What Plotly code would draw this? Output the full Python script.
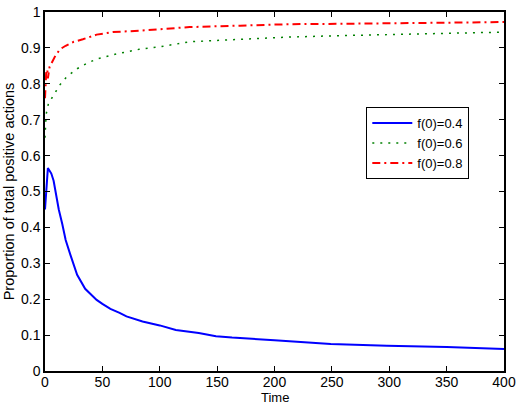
import plotly.graph_objects as go

# curva f(0)=0.4
t_04 = [0, 1, 2.5, 4, 5.5, 7.5, 9.5, 12, 15, 18, 22, 28, 35, 40, 45, 50, 57,
        65, 71, 85, 100, 114, 134, 149, 163, 200, 249, 298, 350, 400]
p_04 = [0.45, 0.50, 0.565, 0.558, 0.55, 0.53, 0.49, 0.45, 0.41, 0.365, 0.325,
        0.268, 0.229, 0.213, 0.198, 0.187, 0.173, 0.162, 0.152, 0.138, 0.127,
        0.114, 0.106, 0.097, 0.093, 0.086, 0.075, 0.070, 0.067, 0.061]

# curva f(0)=0.6
t_06 = [0, 0.5, 1, 3, 5, 8, 13, 19, 28, 36, 45, 62, 82, 100, 126, 170, 212,
        255, 298, 350, 400]
p_06 = [0.65, 0.69, 0.715, 0.745, 0.755, 0.77, 0.797, 0.82, 0.842, 0.856,
        0.869, 0.883, 0.896, 0.903, 0.917, 0.924, 0.930, 0.934, 0.937, 0.941,
        0.944]

# curva f(0)=0.8
t_08 = [0, 0.5, 1, 2, 2.5, 4, 6, 9, 13, 18, 25, 33, 45, 59, 82, 105, 126, 170,
        212, 255, 298, 350, 400]
p_08 = [0.76, 0.80, 0.83, 0.84, 0.815, 0.847, 0.86, 0.878, 0.896, 0.906, 0.917,
        0.924, 0.937, 0.944, 0.948, 0.954, 0.958, 0.962, 0.966, 0.967, 0.968,
        0.970, 0.972]

x_ticks = [0, 50, 100, 150, 200, 250, 300, 350, 400]
y_ticks = [0, 0.1, 0.2, 0.3, 0.4, 0.5, 0.6, 0.7, 0.8, 0.9, 1]

fig = go.Figure()
fig.add_trace(go.Scatter(x=t_04, y=p_04, mode='lines', name='f(0)=0.4',
                         line=dict(color='#0000ff', width=2)))
fig.add_trace(go.Scatter(x=t_06, y=p_06, mode='lines', name='f(0)=0.6',
                         line=dict(color='#008000', width=1.5, dash='2px,6px')))
fig.add_trace(go.Scatter(x=t_08, y=p_08, mode='lines', name='f(0)=0.8',
                         line=dict(color='#ff0000', width=2, dash='8px,4px,2px,4px')))

eixo = dict(showline=True, linecolor='black', linewidth=1.5, mirror='ticks',
            ticks='inside', ticklen=5, tickcolor='black', showgrid=False,
            zeroline=False, tickfont=dict(size=14, color='black'),
            ticklabeloverflow='allow')

fig.update_layout(
    width=520, height=406,
    margin=dict(l=45, r=12, t=4, b=35),
    paper_bgcolor='white', plot_bgcolor='white',
    font=dict(family='Liberation Sans, Arial, sans-serif', color='black'),
    xaxis=dict(range=[0, 400], tickvals=x_ticks, ticklabelstandoff=-3, **eixo),
    yaxis=dict(range=[0, 1], tickvals=y_ticks, ticktext=[str(v) for v in y_ticks],
               title=dict(text='Proportion of total positive actions',
                          font=dict(size=14.5), standoff=3), **eixo),
    legend=dict(x=0.70, y=0.735, xanchor='left', yanchor='top',
                bgcolor='white', bordercolor='black', borderwidth=1,
                font=dict(size=13), tracegroupgap=0, itemwidth=40),
    showlegend=True,
)

# titulo do eixo x como anotacao, encostado no fundo da figura
fig.add_annotation(text='Time', xref='paper', yref='paper', x=0.5, y=0,
                   xanchor='center', yanchor='bottom', yshift=-35, borderpad=0,
                   showarrow=False, font=dict(size=13))

# tirar a margem do body para o grafico ficar no canto
fig.write_html("out.html", config={'displayModeBar': False},
               post_script="document.body.style.margin='0';")
